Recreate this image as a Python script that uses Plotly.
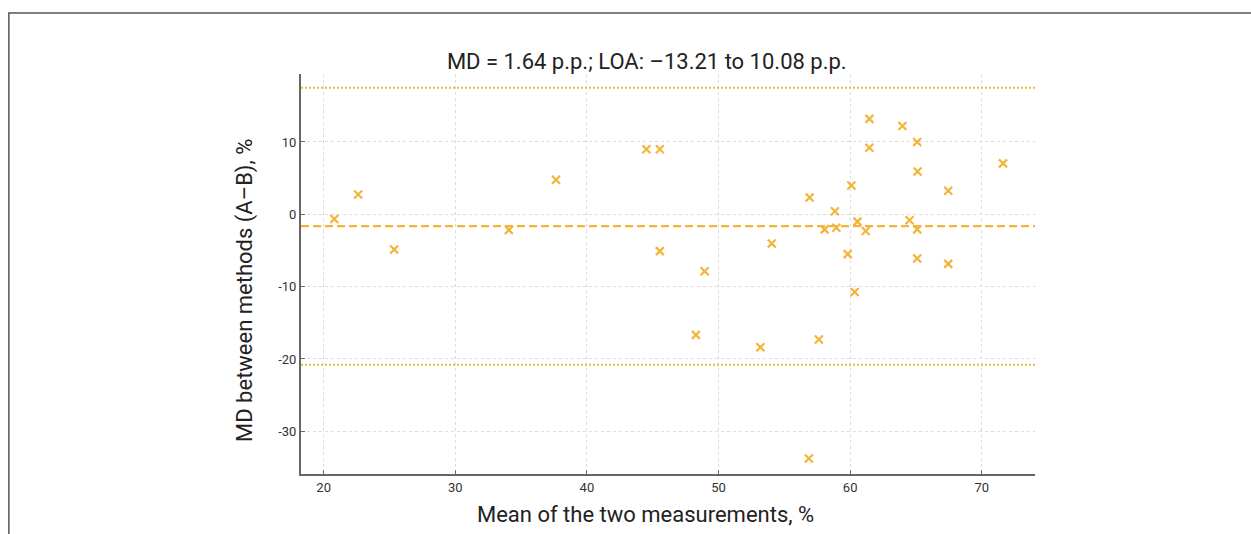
import plotly.graph_objects as go

# Bland–Altman data: mean of the two measurements vs. difference (A–B)
mean_vals = [20.81, 22.62, 25.36, 34.07, 37.65, 44.52, 45.54, 45.54, 48.28, 48.94,
             53.18, 54.04, 56.86, 56.92, 57.62, 58.06, 58.84, 58.95, 59.81, 60.09,
             60.34, 60.55, 61.18, 61.46, 61.46, 63.97, 64.51, 65.09, 65.12, 65.09,
             65.09, 67.45, 67.45, 71.61]
diff_vals = [-0.64, 2.74, -4.86, -2.17, 4.78, 8.99, 8.99, -5.09, -16.67, -7.86,
             -18.37, -4.03, -33.75, 2.32, -17.31, -2.08, 0.42, -1.85, -5.50, 3.99,
             -10.74, -1.01, -2.31, 13.20, 9.20, 12.20, -0.83, 10.00, 5.93, -2.08,
             -6.11, 3.25, -6.85, 7.04]

md_line = -1.64
loa_upper = 17.5
loa_lower = -20.8

x_ticks = [20, 30, 40, 50, 60, 70]
y_ticks = [-30, -20, -10, 0, 10]
y_tick_text = ["-30", "-20", "-10", "0", "10"]

title_text = "MD = 1.64 p.p.; LOA: \u201313.21 to 10.08 p.p."
x_title = "Mean of the two measurements, %"
y_title = "MD between methods (A\u2013B), %"

ORANGE = "#f2b53a"
FONT = "Roboto, Arial, sans-serif"
TEXT = "#222222"

fig = go.Figure()
fig.add_trace(go.Scatter(
    x=mean_vals, y=diff_vals, mode="markers",
    marker=dict(symbol="x-thin-open", size=8, color=ORANGE,
                line=dict(color=ORANGE, width=2.2)),
    showlegend=False,
))

fig.add_hline(y=loa_upper, line=dict(color=ORANGE, width=2, dash="2px,2px"))
fig.add_hline(y=md_line, line=dict(color=ORANGE, width=2.2, dash="8px,4px"))
fig.add_hline(y=loa_lower, line=dict(color=ORANGE, width=2, dash="2px,2px"))

# outer frame around the figure
fig.add_shape(type="rect", xref="paper", yref="paper",
              x0=-0.398, x1=1.32, y0=-0.3, y1=1.1525,
              line=dict(color="#555555", width=1.5), layer="below")

# axis titles
fig.add_annotation(text=x_title, xref="paper", yref="paper", x=0.470, y=-0.10,
                   xanchor="center", yanchor="middle", showarrow=False,
                   font=dict(family=FONT, size=22, color=TEXT))
fig.add_annotation(text=y_title, xref="paper", yref="paper", x=-0.0763, y=0.46,
                   xanchor="center", yanchor="middle", showarrow=False, textangle=-90,
                   font=dict(family=FONT, size=22, color=TEXT))

axis_common = dict(
    showline=True, linecolor="#666666", linewidth=2,
    showgrid=True, gridcolor="#dcdcdc", gridwidth=1, griddash="dot",
    zeroline=False, ticks="inside", ticklen=4, tickcolor="#666666",
    tickfont=dict(family=FONT, size=13, color="#333333"),
    mirror=False,
)

fig.update_layout(
    width=1251, height=534,
    margin=dict(l=301, r=216, t=74, b=60),
    paper_bgcolor="white", plot_bgcolor="white",
    font=dict(family=FONT, color=TEXT),
    title=dict(text=title_text, xref="container", x=0.517, xanchor="center",
               y=0.885, yanchor="middle",
               font=dict(family=FONT, size=22, color=TEXT)),
    xaxis=dict(range=[18.28, 74.04], tickvals=x_ticks, **axis_common),
    yaxis=dict(range=[-35.9, 19.4], tickvals=y_ticks, ticktext=y_tick_text,
               **axis_common),
)

fig.write_html("out.html")
